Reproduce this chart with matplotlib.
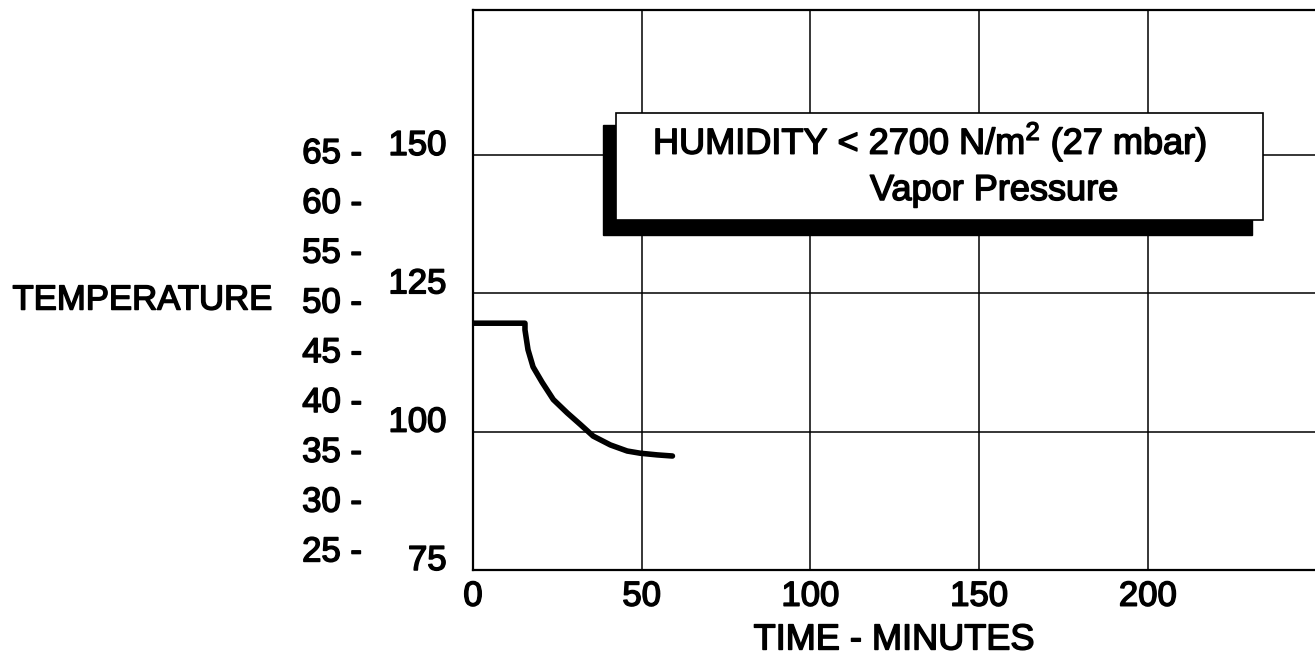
import matplotlib
matplotlib.use("Agg")
import matplotlib.pyplot as plt
from matplotlib.patches import Rectangle
from matplotlib.transforms import ScaledTranslation
import matplotlib.patheffects as pe

plt.rcParams['font.family'] = ['Liberation Sans', 'DejaVu Sans']
plt.rcParams['mathtext.fontset'] = 'custom'
plt.rcParams['mathtext.rm'] = 'Liberation Sans'

# ---- data ----
time_min = [0, 15.4, 15.4, 16.3, 17.8, 20.5, 23.8, 27.9, 31.8, 35.6, 40.7, 45.7, 49.6, 54.6, 59.1]
temp_f = [119.6, 119.6, 118.4, 114.8, 111.7, 108.9, 105.8, 103.4, 101.3, 99.2, 97.6, 96.5, 96.1, 95.8, 95.6]
x_ticks = [0, 50, 100, 150, 200]
f_ticks = [75, 100, 125, 150]
c_ticks = [25, 30, 35, 40, 45, 50, 55, 60, 65]
box_line1 = "HUMIDITY < 2700 N/m$^{\\mathrm{2}}$ (27 mbar)"
box_line2 = "Vapor Pressure"
xlabel = "TIME - MINUTES"
ylabel = "TEMPERATURE"

W, H = 1315, 664
fig = plt.figure(figsize=(W / 100, H / 100), dpi=100)
ax_left, ax_right, ax_top, ax_bot = 473, 1315, 10, 570
ax = fig.add_axes([ax_left / W, (H - ax_bot) / H, (ax_right - ax_left) / W, (ax_bot - ax_top) / H])

FS = 25
THICK = [pe.withStroke(linewidth=1.1, foreground='black')]

ax.plot(time_min, temp_f, color='black', lw=4.0, solid_capstyle='round',
        solid_joinstyle='round', zorder=3)

ax.set_xlim(0, 249.5)
ax.set_ylim(75, 176.2)
ax.set_xticks(x_ticks)
ax.set_yticks(f_ticks)
ax.tick_params(axis='x', length=0, pad=7, labelsize=FS)
ax.tick_params(axis='y', length=0, pad=19, labelsize=FS)
for lab in ax.get_yticklabels():
    lab.set_va('baseline')
    lab.set_path_effects(THICK)
for lab in ax.get_xticklabels():
    lab.set_path_effects(THICK)
ax.grid(True, color='black', lw=1.1)
ax.set_axisbelow(True)
for s in ['left', 'bottom', 'top']:
    ax.spines[s].set_linewidth(1.6)
ax.spines['right'].set_visible(False)

xl = ax.set_xlabel(xlabel, fontsize=FS + 1, labelpad=7)
xl.set_path_effects(THICK)

# Celsius scale
def f2c(f):
    return (f - 32) * 5 / 9

def c2f(c):
    return c * 9 / 5 + 32

sec = ax.secondary_yaxis((362 - ax_left) / (ax_right - ax_left), functions=(f2c, c2f))
sec.set_yticks(c_ticks)
sec.set_yticklabels([f"{c} -" for c in c_ticks])
sec.tick_params(length=0, pad=0, labelsize=FS)
sec.spines['left'].set_visible(False)
shift = ScaledTranslation(0, 0.07, fig.dpi_scale_trans)
for lab in sec.get_yticklabels():
    lab.set_va('center')
    lab.set_transform(lab.get_transform() + shift)
    lab.set_path_effects(THICK)

fig.text(272 / W, (H - 300) / H, ylabel, ha='right', va='center', fontsize=FS,
         path_effects=THICK)

# annotation box with shadow
shadow = Rectangle((603 / W, (H - 235) / H), (1252 - 603) / W, (235 - 125) / H,
                   transform=fig.transFigure, facecolor='black', edgecolor='black', zorder=5)
box = Rectangle((616 / W, (H - 220) / H), (1263 - 616) / W, (220 - 113) / H,
                transform=fig.transFigure, facecolor='white', edgecolor='black', lw=1.2, zorder=6)
fig.add_artist(shadow)
fig.add_artist(box)
fig.text(653 / W, (H - 154) / H, box_line1, ha='left', va='baseline', fontsize=26,
         zorder=7, path_effects=THICK)
fig.text(870 / W, (H - 200) / H, box_line2, ha='left', va='baseline', fontsize=26,
         zorder=7, path_effects=THICK)

fig.savefig("out.png", dpi=100)
